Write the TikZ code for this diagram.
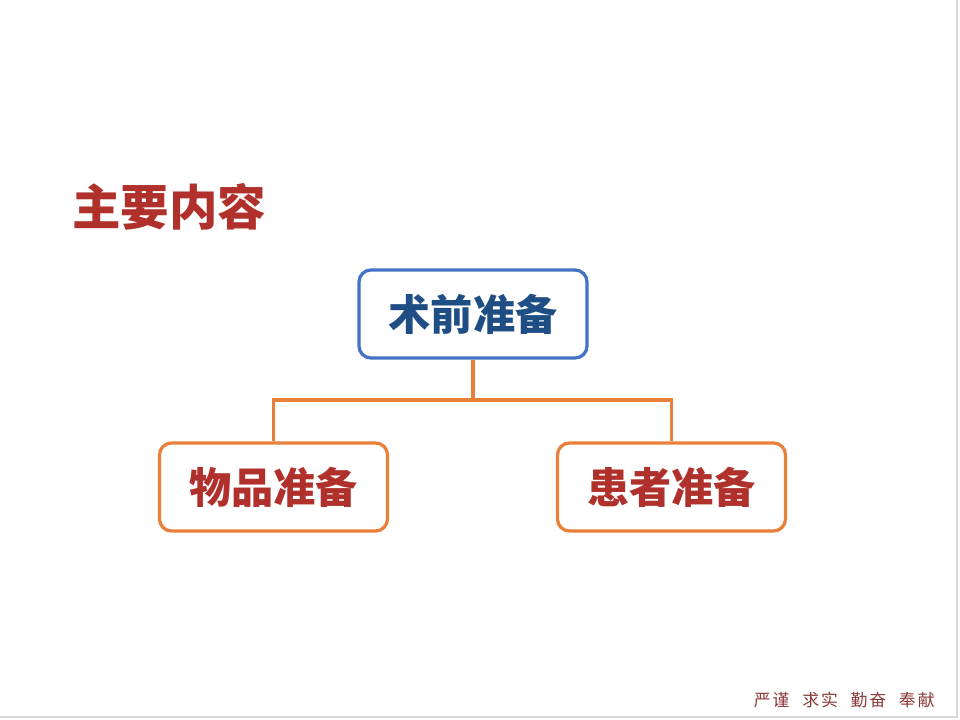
\documentclass[tikz,border=0pt]{standalone}
\usepackage{fontspec}
\usepackage{tikz}
\newfontfamily\cjk{Noto Sans CJK SC}
\definecolor{boxblue}{HTML}{4472C4}
\definecolor{textblue}{HTML}{1F4E85}
\definecolor{boxorange}{HTML}{E8803A}
\definecolor{textred}{HTML}{B0302B}
\definecolor{footred}{HTML}{8A3A36}

\begin{document}
\begin{tikzpicture}[x=0.025cm, y=-0.025cm,
        topbox/.style={draw=boxblue, line width=2.3pt, rounded corners=0.3cm, fill=white,
            minimum width=5.7cm, minimum height=2.2cm, text=textblue, font=\cjk\bfseries\fontsize{30}{36}\selectfont},
        subbox/.style={draw=boxorange, line width=2.3pt, rounded corners=0.3cm, fill=white,
            minimum width=5.7cm, minimum height=2.2cm, text=textred, font=\cjk\bfseries\fontsize{30}{36}\selectfont},
        link/.style={draw=boxorange, line width=2.6pt}]
        \useasboundingbox (0, 0) rectangle (960, 720);
        \draw[black!15, line width=0.8pt] (957, 0) -- (957, 717) -- (0, 717);

        \node[anchor=west, inner sep=0pt, text=textred, font=\cjk\bfseries\fontsize{34.5}{40}\selectfont] (title) at (72, 207) {主要内容};

        \node[topbox] (pre) at (473, 314) {术前准备};
        \node[subbox] (goods) at (273.5, 487) {物品准备};
        \node[subbox] (patient) at (671.5, 487) {患者准备};

        \coordinate (split) at (473, 400);
        \draw[link] (pre.south) -- (split);
        \draw[link] (goods.north) |- (split) -| (patient.north);

        \node[anchor=east, inner sep=0pt, text=footred, font=\cjk\fontsize{12}{14}\selectfont] (motto) at (935, 700)
            {严\hspace{1.4pt}谨\hspace{9pt}求\hspace{1.4pt}实\hspace{9pt}勤\hspace{1.4pt}奋\hspace{9pt}奉\hspace{1.4pt}献};
    \end{tikzpicture}
\end{document}
